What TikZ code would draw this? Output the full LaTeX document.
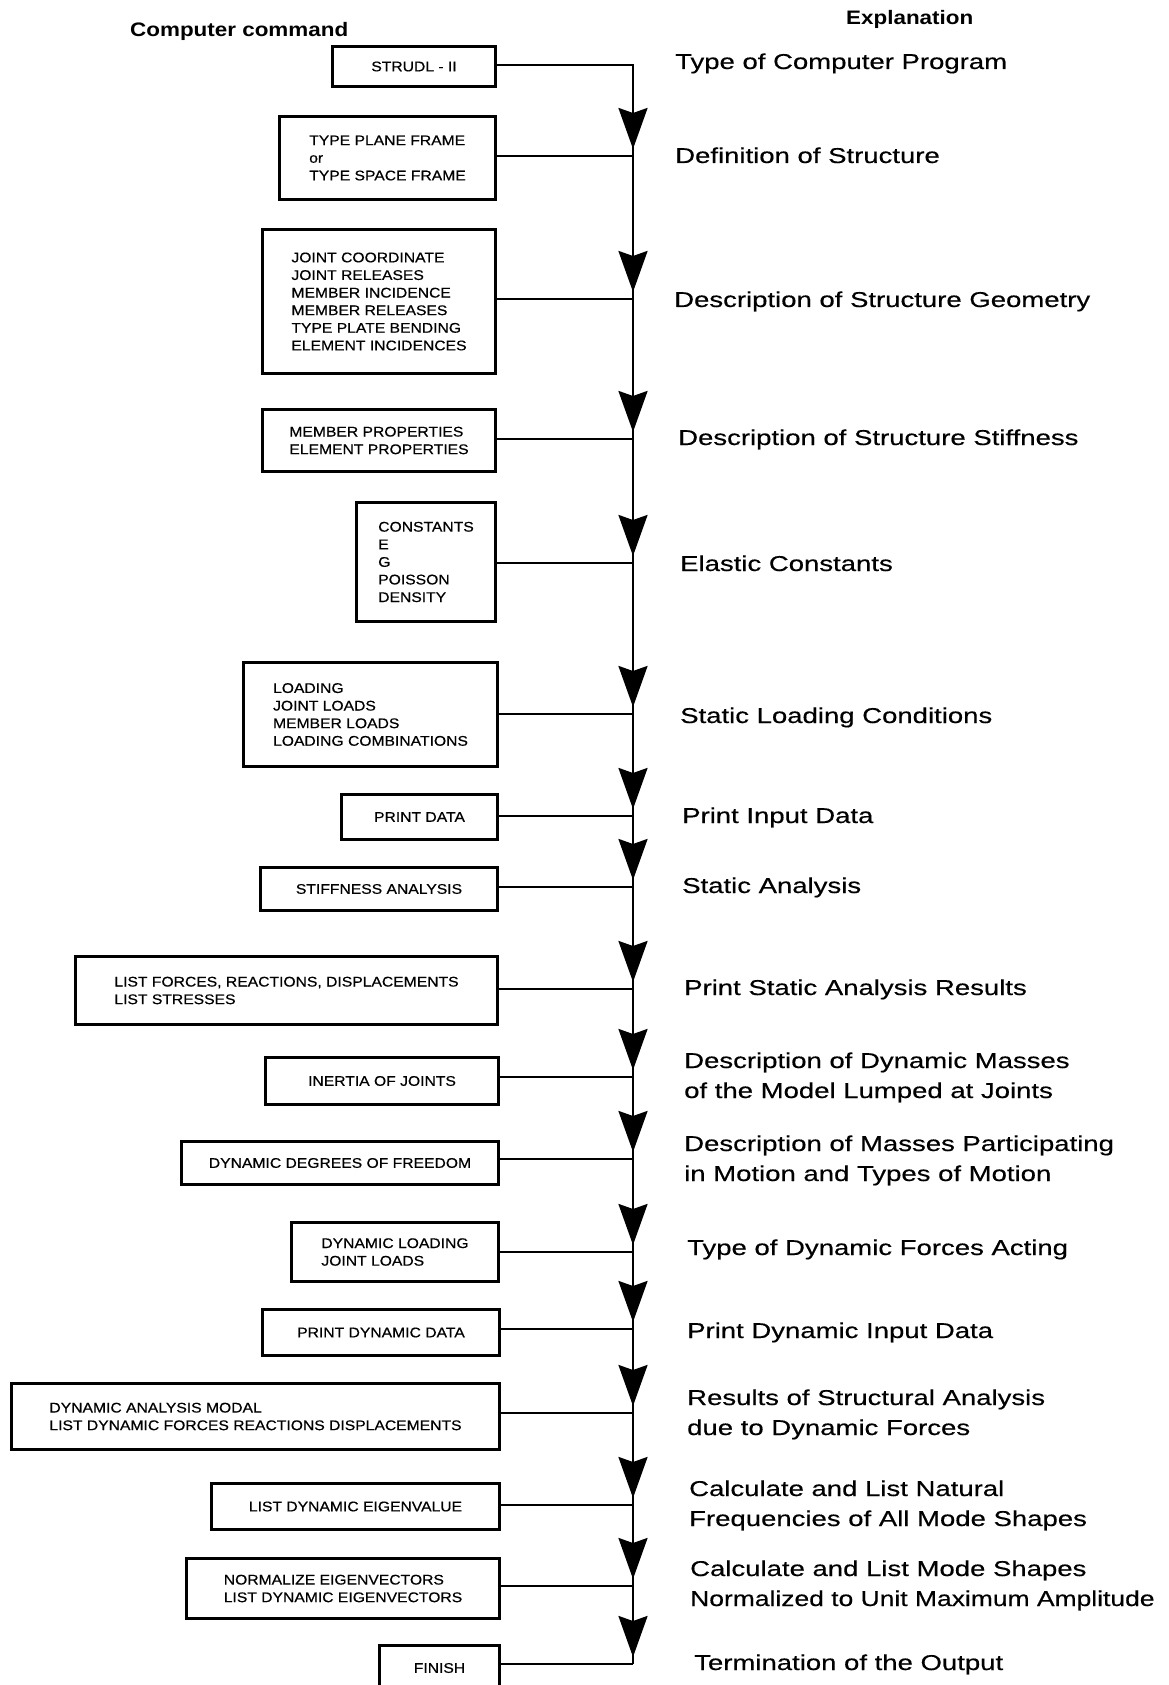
\documentclass[tikz,border=0pt]{standalone}
\usepackage{fontspec}
\setmainfont{Liberation Sans}
\newfontfamily\cmdfont[FakeStretch=1.12,FakeBold=0.5]{Liberation Sans}
\newfontfamily\expfont[FakeStretch=1.28,FakeBold=0.4]{Liberation Sans}
\newfontfamily\expnarrow[FakeStretch=1.23,FakeBold=0.4]{Liberation Sans}
\newfontfamily\headfont[FakeStretch=1.15]{Liberation Sans}
\usetikzlibrary{arrows.meta}
\newcommand\twolines[2]{\begin{tabular}[t]{@{}l@{}}#1\\#2\end{tabular}}

\begin{document}
\begin{tikzpicture}[x=1pt,y=-1pt,
  cmd/.style={draw, line width=2.6pt, inner sep=0pt, align=left,
    font=\cmdfont\fontsize{14}{17.6}\selectfont},
  expl/.style={anchor=base west, inner sep=0pt,
    font=\expfont\fontsize{21.5}{30}\selectfont},
  head/.style={anchor=base west, inner sep=0pt,
    font=\headfont\bfseries\fontsize{19.5}{22}\selectfont},
  link/.style={line width=2.6pt},
  flow/.style={line width=2.6pt, shorten >=7pt,
    -{Stealth[length=41pt,width=29pt,inset=5pt]}}
]
\path[use as bounding box] (0,0) rectangle (1168,1685);
\clip (0,0) rectangle (1168,1685);
\fill[white] (0,0) rectangle (1168,1685);

% column headings
\node[head] (hcmd) at (130,37) {Computer command};
\node[head] (hexp) at (846,25) {Explanation};

% command boxes
\node[cmd, minimum width=163, minimum height=40]  (b1)  at (414,66.5)   {STRUDL - II};
\node[cmd, minimum width=216, minimum height=83]  (b2)  at (387.5,158)  {TYPE PLANE FRAME\\or\\TYPE SPACE FRAME};
\node[cmd, minimum width=233, minimum height=144] (b3)  at (379,301.5)  {JOINT COORDINATE\\JOINT RELEASES\\MEMBER INCIDENCE\\MEMBER RELEASES\\TYPE PLATE BENDING\\ELEMENT INCIDENCES};
\node[cmd, minimum width=233, minimum height=62]  (b4)  at (379,440.5)  {MEMBER PROPERTIES\\ELEMENT PROPERTIES};
\node[cmd, minimum width=139, minimum height=119] (b5)  at (426,562)    {CONSTANTS\\E\\G\\POISSON\\DENSITY};
\node[cmd, minimum width=254, minimum height=104] (b6)  at (370.5,714.5) {LOADING\\JOINT LOADS\\MEMBER LOADS\\LOADING COMBINATIONS};
\node[cmd, minimum width=156, minimum height=45]  (b7)  at (419.5,817)  {PRINT DATA};
\node[cmd, minimum width=237, minimum height=43]  (b8)  at (379,889)    {STIFFNESS ANALYSIS};
\node[cmd, minimum width=422, minimum height=68]  (b9)  at (286.5,990.5) {LIST FORCES, REACTIONS, DISPLACEMENTS\\LIST STRESSES};
\node[cmd, minimum width=233, minimum height=47]  (b10) at (382,1081)   {INERTIA OF JOINTS};
\node[cmd, minimum width=317, minimum height=43]  (b11) at (340,1163)   {DYNAMIC DEGREES OF FREEDOM};
\node[cmd, minimum width=207, minimum height=59]  (b12) at (395,1252)   {DYNAMIC LOADING\\JOINT LOADS};
\node[cmd, minimum width=237, minimum height=46]  (b13) at (381,1332.5) {PRINT DYNAMIC DATA};
\node[cmd, minimum width=488, minimum height=66]  (b14) at (255.5,1416.5) {DYNAMIC ANALYSIS MODAL\\LIST DYNAMIC FORCES REACTIONS DISPLACEMENTS};
\node[cmd, minimum width=288, minimum height=46]  (b15) at (355.5,1506.5) {LIST DYNAMIC EIGENVALUE};
\node[cmd, minimum width=313, minimum height=60]  (b16) at (343,1588.5) {NORMALIZE EIGENVECTORS\\LIST DYNAMIC EIGENVECTORS};
\node[cmd, minimum width=120, minimum height=45]  (b17) at (439.5,1668) {FINISH};

% junctions on the main flow line
\foreach \i/\y in {1/65,2/156,3/299,4/439,5/563,6/714,7/816,8/887,9/989,
                   10/1077,11/1159,12/1252,13/1329,14/1413,15/1505,16/1586,17/1664}
  \coordinate (j\i) at (633,\y);

% box-to-line connectors
\foreach \i in {1,...,17}
  \draw[link] (b\i.east |- j\i) -- (j\i);

% main flow line, continuous, with an arrowhead above each junction
\draw[link, line join=miter] (b1.east |- j1) -- (j1) -- (j17);
\foreach \i [evaluate=\i as \n using int(\i+1)] in {1,...,16}
  \draw[flow] (j\i) -- (j\n);

% explanations
\node[expl] (l1)  at (675,69)   {Type of Computer Program};
\node[expl] (l2)  at (675,163)  {Definition of Structure};
\node[expl] (l3)  at (674,307)  {Description of Structure Geometry};
\node[expl] (l4)  at (678,445)  {Description of Structure Stiffness};
\node[expl] (l5)  at (680,571)  {Elastic Constants};
\node[expl] (l6)  at (680,723)  {Static Loading Conditions};
\node[expl] (l7)  at (682,823)  {Print Input Data};
\node[expl] (l8)  at (682,893)  {Static Analysis};
\node[expl] (l9)  at (684,995)  {Print Static Analysis Results};
\node[expl] (l10) at (684,1068) {\twolines{Description of Dynamic Masses}{of the Model Lumped at Joints}};
\node[expl] (l11) at (684,1151) {\twolines{Description of Masses Participating}{in Motion and Types of Motion}};
\node[expl] (l12) at (687,1255) {Type of Dynamic Forces Acting};
\node[expl] (l13) at (687,1338) {Print Dynamic Input Data};
\node[expl] (l14) at (687,1405) {\twolines{Results of Structural Analysis}{due to Dynamic Forces}};
\node[expl] (l15) at (689,1496) {\twolines{Calculate and List Natural}{Frequencies of All Mode Shapes}};
\node[expl] (l16) at (690,1576) {\twolines{Calculate and List Mode Shapes}{\expnarrow Normalized to Unit Maximum Amplitude}};
\node[expl] (l17) at (694,1670) {Termination of the Output};
\end{tikzpicture}
\end{document}
